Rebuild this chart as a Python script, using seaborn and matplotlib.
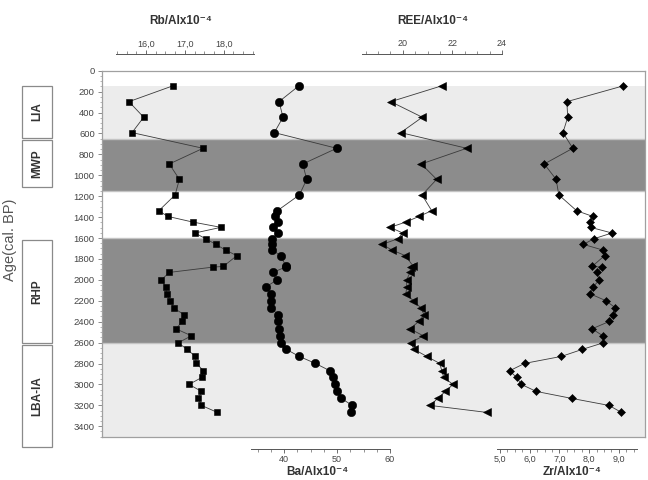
import numpy as np
import pandas as pd
import matplotlib
matplotlib.use('Agg')
import matplotlib.pyplot as plt
import matplotlib.transforms as mtransforms
from matplotlib.patches import Rectangle
from matplotlib.ticker import FixedLocator
import seaborn as sns

# sample ages (cal. BP) and element ratios
age = [145, 296, 445, 592, 742, 892, 1039, 1188, 1339, 1393,
       1447, 1498, 1552, 1607, 1661, 1715, 1769, 1872, 1878, 1929,
       2002, 2066, 2133, 2200, 2267, 2334, 2398, 2468, 2535, 2602,
       2665, 2732, 2799, 2870, 2933, 3000, 3067, 3134, 3201, 3268]
rb = [16.69, 15.56, 15.94, 15.64, 17.47, 16.60, 16.86, 16.75, 16.33, 16.56,
      17.20, 17.93, 17.26, 17.54, 17.80, 18.05, 18.34, 17.99, 17.73, 16.60,
      16.39, 16.51, 16.53, 16.63, 16.71, 16.98, 16.94, 16.77, 17.17, 16.83,
      17.06, 17.27, 17.30, 17.48, 17.44, 17.11, 17.43, 17.35, 17.43, 17.84]
ba = [42.80, 39.06, 39.81, 38.17, 49.94, 43.53, 44.28, 42.90, 38.74, 38.30,
      38.92, 37.98, 38.92, 37.68, 37.79, 37.79, 39.38, 40.38, 40.30, 37.87,
      38.62, 36.66, 37.49, 37.49, 37.49, 38.92, 38.92, 39.06, 39.25, 39.49,
      40.43, 42.87, 45.91, 48.68, 49.21, 49.60, 49.92, 50.79, 52.91, 52.64]
ree = [21.57, 19.52, 20.79, 19.92, 22.58, 20.75, 21.37, 20.78, 21.17, 20.66,
       20.13, 19.49, 20.00, 19.81, 19.17, 19.57, 20.11, 20.43, 20.32, 20.29,
       20.16, 20.16, 20.13, 20.43, 20.73, 20.86, 20.65, 20.29, 20.83, 20.32,
       20.46, 20.97, 21.49, 21.58, 21.65, 22.03, 21.72, 21.41, 21.11, 23.40]
zr = [9.15, 7.25, 7.28, 7.12, 7.45, 6.49, 6.89, 6.98, 7.58, 8.12,
      8.03, 8.05, 8.77, 8.16, 7.81, 8.46, 8.52, 8.10, 8.45, 8.26,
      8.34, 8.14, 8.03, 8.57, 8.88, 8.79, 8.68, 8.10, 8.46, 8.48,
      7.77, 7.07, 5.83, 5.32, 5.56, 5.72, 6.22, 7.42, 8.67, 9.09]

# climate periods
periods = ['LIA', 'MWP', 'RHP', 'LBA-IA']
period_start = [150, 650, 1600, 2600]
period_end = [650, 1150, 2600, 3500]

df = pd.DataFrame({'age': age, 'Rb': rb, 'Ba': ba, 'REE': ree, 'Zr': zr})

sns.set_theme(style='white')
plt.rcParams['font.family'] = ['Liberation Sans', 'DejaVu Sans']

fig = plt.figure(figsize=(6.48, 4.8), dpi=100)
W, H = 648, 480
ax = fig.add_axes([101.7 / W, 1 - 436.7 / H, 543.3 / W, 366 / H])

# background bands
band_colors = ['#ececec', '#8c8c8c', '#8c8c8c', '#ececec']
for s, e, c in zip(period_start, period_end, band_colors):
    ax.axhspan(s, e, color=c, lw=0, zorder=0)
for s, e, c in zip(period_start, period_end, band_colors):
    if c == '#8c8c8c':
        ax.axhline(s, color='#c4c4c4', lw=1, zorder=0.5)
        ax.axhline(e, color='#c4c4c4', lw=1, zorder=0.5)

ax.set_ylim(3500, 0)
ax.set_xlim(0, 1)
ax.set_xticks([])
ax.set_yticks(np.arange(0, 3401, 200))
ax.yaxis.set_minor_locator(FixedLocator(np.arange(0, 3501, 50)))
ax.tick_params(axis='y', which='major', left=True, length=3, width=0.6,
               colors='#777', labelcolor='#444', labelsize=6.8, pad=2)
ax.tick_params(axis='y', which='minor', left=True, length=1.5, width=0.5,
               colors='#999')
for sp in ax.spines.values():
    sp.set_color('#a0a0a0')
    sp.set_linewidth(0.9)
ax.set_ylabel('')

fig.text(10 / W, 1 - 240 / H, 'Age(cal. BP)', rotation=90, ha='center',
         va='center', fontsize=10.5, color='#555')

# period boxes on the left
box_top = [150, 660, 1620, 2620]
box_bot = [640, 1110, 2600, 3600]
trans = mtransforms.blended_transform_factory(fig.transFigure, ax.transData)
for name, t, b in zip(periods, box_top, box_bot):
    rect = Rectangle((22 / W, t), 30 / W, b - t, transform=trans,
                     facecolor='white', edgecolor='#8a8a8a', lw=0.9,
                     clip_on=False)
    fig.add_artist(rect)
    fig.text(37 / W, (t + b) / 2, name, transform=trans, rotation=90,
             ha='center', va='center', fontsize=8.5, fontweight='bold',
             color='#333')

# one twin axis per element
series = [
    ('Rb', 's', 5.0, 'top', (14.858, 28.861), (15.22, 18.78),
     [16, 17, 18], ['16,0', '17,0', '18,0'], np.arange(15.25, 18.76, 0.25)),
    ('Ba', 'o', 6.0, 'bottom', (5.60, 108.11), (33.8, 60),
     [40, 50, 60], ['40', '50', '60'], np.arange(35, 60.1, 2.5)),
    ('REE', '<', 5.6, 'top', (7.863, 29.770), (18.35, 24),
     [20, 22, 24], ['20', '22', '24'], np.arange(18.5, 24.01, 0.5)),
    ('Zr', 'D', 4.4, 'bottom', (-8.41, 9.882), (4.9, 9.6),
     [5, 6, 7, 8, 9], ['5,0', '6,0', '7,0', '8,0', '9,0'],
     np.arange(5, 9.51, 0.25)),
]

for col, mk, ms, side, xlim, bounds, majors, labels, minors in series:
    tw = ax.twiny()
    sns.lineplot(data=df, x=col, y='age', sort=False, estimator=None,
                 marker=mk, markersize=ms, color='#3a3a3a', lw=0.6,
                 markerfacecolor='black', markeredgecolor='black',
                 markeredgewidth=0.4, ax=tw)
    tw.set_xlim(*xlim)
    tw.set_ylim(3500, 0)
    tw.set_xlabel('')
    tw.set_ylabel('')
    for sp in tw.spines.values():
        sp.set_visible(False)
    sp = tw.spines[side]
    sp.set_visible(True)
    sp.set_position(('outward', 12 if side == 'top' else 9))
    sp.set_bounds(*bounds)
    sp.set_color('#555')
    sp.set_linewidth(0.7)
    tw.xaxis.set_ticks_position(side)
    tw.set_xticks(majors)
    tw.set_xticklabels(labels)
    tw.xaxis.set_minor_locator(FixedLocator(minors))
    tw.tick_params(axis='x', which='major', length=3, width=0.6,
                   colors='#555', labelcolor='#444', labelsize=6.5, pad=1)
    tw.tick_params(axis='x', which='minor', length=2, width=0.5,
                   colors='#666')

# element titles
titles = [('Rb/Alx10⁻⁴', 181, 21), ('REE/Alx10⁻⁴', 433, 21),
          ('Ba/Alx10⁻⁴', 317, 472), ('Zr/Alx10⁻⁴', 572, 472)]
for txt, x, y in titles:
    fig.text(x / W, 1 - y / H, txt, ha='center', va='center', fontsize=8.5,
             fontweight='bold', color='#333')

fig.savefig('out.png', dpi=100)
